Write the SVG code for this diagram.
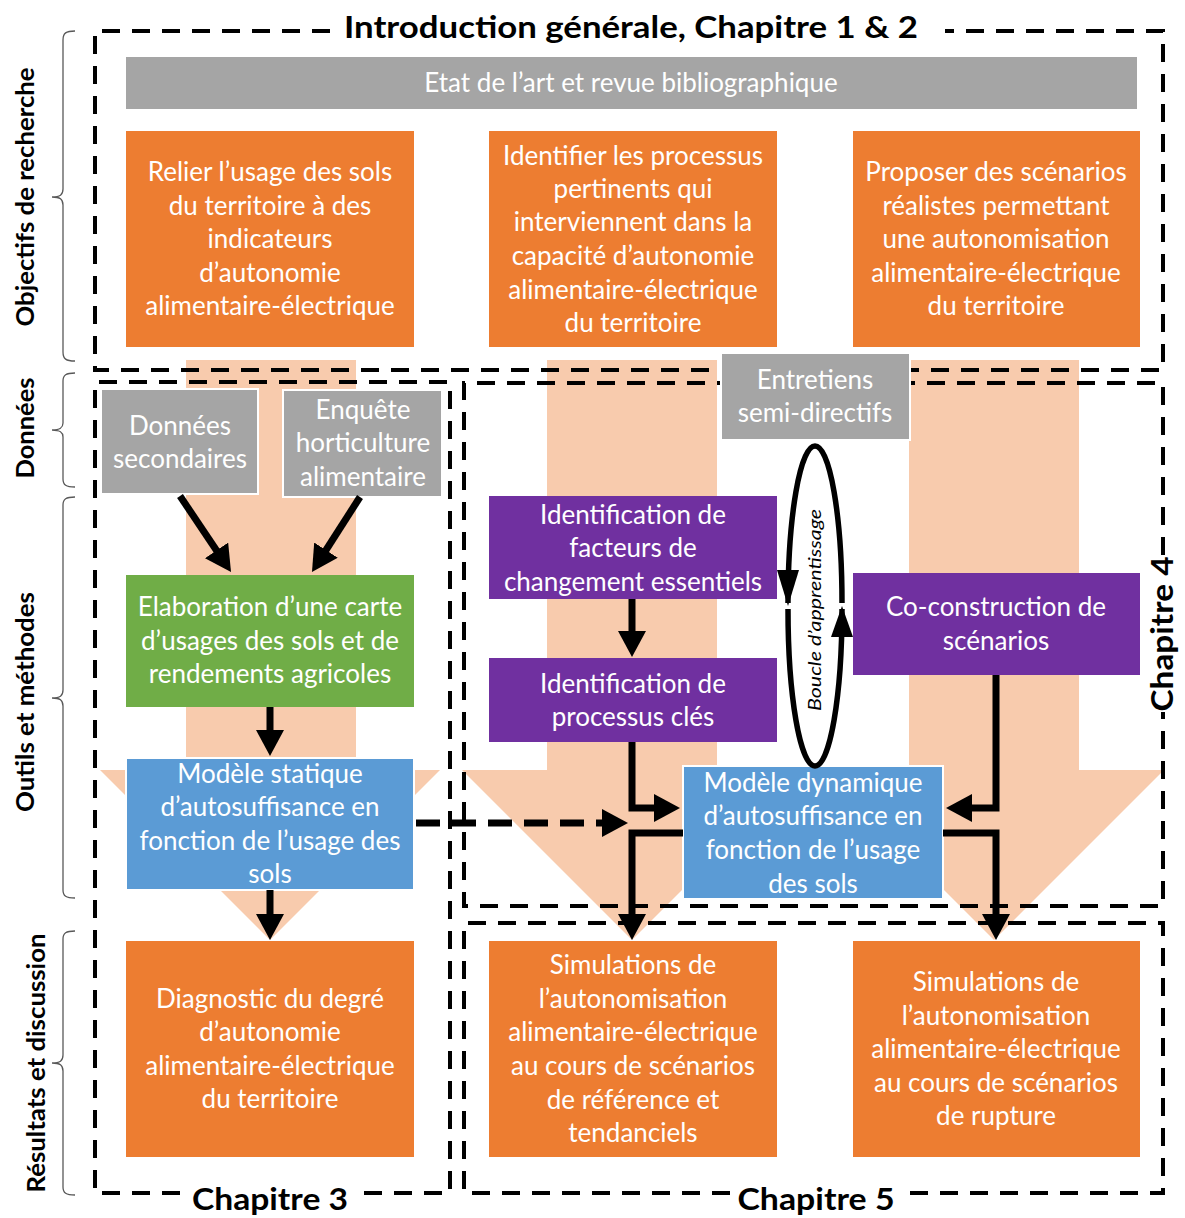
<svg xmlns="http://www.w3.org/2000/svg" width="1185" height="1218" viewBox="0 0 1185 1218">
<style>
.t{font-family:Lato,"Open Sans","Liberation Sans",sans-serif;font-size:26px;fill:#fff;text-anchor:middle}
.h{font-family:Lato,"Open Sans","Liberation Sans",sans-serif;font-weight:bold;fill:#000;text-anchor:middle}
.or{fill:#ed7d31}
.gr{fill:#a5a5a5;stroke:#fff;stroke-width:2}
.gn{fill:#70ad47}
.bl{fill:#5b9bd5;stroke:#fff;stroke-width:2}
.pu{fill:#7030a0}
.pe{fill:#f8cbad}
.dash{fill:none;stroke:#000;stroke-width:4;stroke-dasharray:18 12}
.br{fill:none;stroke:#595959;stroke-width:1.3}
.ar{fill:none;stroke:#000;stroke-width:7;stroke-linejoin:miter}
</style>
<defs>
<marker id="ah" markerUnits="userSpaceOnUse" markerWidth="28" markerHeight="28" refX="10" refY="14" orient="auto">
<path d="M0,0 L26,14 L0,28 Z" fill="#000"/>
</marker>
</defs>
<rect width="1185" height="1218" fill="#fff"/>

<g id="background-arrows">
<path class="pe" d="M186,360 H356 V770 H440 L270,940 L100,770 H186 Z"/>
<path class="pe" d="M547,360 H717 V770 H802 L632,940 L462,770 H547 Z"/>
<path class="pe" d="M909,360 H1079 V770 H1164 L994,940 L824,770 H909 Z"/>
</g>

<g id="frames">
<path class="dash" d="M330,31 H95 V370 H1163 V31 H945"/>
<path class="dash" d="M180,1193 H95 V382 H450 V1193 H360"/>
<path class="dash" d="M1163,555 V383 H464 V906 H1163 V712"/>
<path class="dash" d="M730,1193 H464 V923 H1163 V1193 H905"/>
<text class="h" x="631" y="38" font-size="31" textLength="574" lengthAdjust="spacingAndGlyphs">Introduction générale, Chapitre 1 &amp; 2</text>
<text class="h" x="270" y="1210" font-size="31" textLength="156" lengthAdjust="spacingAndGlyphs">Chapitre 3</text>
<text class="h" x="816" y="1210" font-size="31" textLength="157" lengthAdjust="spacingAndGlyphs">Chapitre 5</text>
<text class="h" transform="translate(1173,634) rotate(-90)" x="0" y="0" font-size="31" textLength="155" lengthAdjust="spacingAndGlyphs">Chapitre 4</text>
</g>

<g id="side-labels">
<path class="br" d="M75,31 C66,31 63,33 63,40 V189 C63,195 60,197 52,197 C60,197 63,199 63,205 V352 C63,359 66,361 75,361"/>
<path class="br" d="M75,373 C66,373 63,375 63,381 V423 C63,428 60,430 52,430 C60,430 63,432 63,437 V479 C63,485 66,487 75,487"/>
<path class="br" d="M75,497 C66,497 63,499 63,505 V690 C63,696 60,698 52,698 C60,698 63,700 63,706 V890 C63,896 66,898 75,898"/>
<path class="br" d="M75,931 C66,931 63,933 63,939 V1055 C63,1061 60,1063 52,1063 C60,1063 63,1065 63,1071 V1187 C63,1193 66,1195 75,1195"/>
<text class="h" transform="translate(34,197) rotate(-90)" font-size="24" textLength="259" lengthAdjust="spacingAndGlyphs">Objectifs de recherche</text>
<text class="h" transform="translate(34,428) rotate(-90)" font-size="24" textLength="101" lengthAdjust="spacingAndGlyphs">Données</text>
<text class="h" transform="translate(34,702) rotate(-90)" font-size="24" textLength="220" lengthAdjust="spacingAndGlyphs">Outils et méthodes</text>
<text class="h" transform="translate(45,1063) rotate(-90)" font-size="24" textLength="259" lengthAdjust="spacingAndGlyphs">Résultats et discussion</text>
</g>

<g id="n-etat"><rect class="gr" x="125" y="56" width="1013" height="54"/><text class="t" x="631" y="92">Etat de l’art et revue bibliographique</text></g>

<g id="n-relier"><rect class="or" x="126" y="131" width="288" height="216"/>
<text class="t"><tspan x="270" y="181">Relier l’usage des sols</tspan><tspan x="270" y="215">du territoire à des</tspan><tspan x="270" y="248">indicateurs</tspan><tspan x="270" y="282">d’autonomie</tspan><tspan x="270" y="315">alimentaire-électrique</tspan></text></g>

<g id="n-identifier"><rect class="or" x="489" y="131" width="288" height="216"/>
<text class="t"><tspan x="633" y="165">Identifier les processus</tspan><tspan x="633" y="198">pertinents qui</tspan><tspan x="633" y="231">interviennent dans la</tspan><tspan x="633" y="265">capacité d’autonomie</tspan><tspan x="633" y="299">alimentaire-électrique</tspan><tspan x="633" y="332">du territoire</tspan></text></g>

<g id="n-proposer"><rect class="or" x="853" y="131" width="287" height="216"/>
<text class="t"><tspan x="996" y="181">Proposer des scénarios</tspan><tspan x="996" y="215">réalistes permettant</tspan><tspan x="996" y="248">une autonomisation</tspan><tspan x="996" y="282">alimentaire-électrique</tspan><tspan x="996" y="315">du territoire</tspan></text></g>

<g id="n-donnees"><rect class="gr" x="101" y="389" width="157" height="105"/>
<text class="t"><tspan x="180" y="435">Données</tspan><tspan x="180" y="468">secondaires</tspan></text></g>

<g id="n-enquete"><rect class="gr" x="283" y="390" width="159" height="107"/>
<text class="t"><tspan x="363" y="419">Enquête</tspan><tspan x="363" y="452">horticulture</tspan><tspan x="363" y="486">alimentaire</tspan></text></g>

<g id="n-entretiens"><rect class="gr" x="721" y="353" width="189" height="87"/>
<text class="t"><tspan x="815" y="389">Entretiens</tspan><tspan x="815" y="422">semi-directifs</tspan></text></g>

<g id="n-facteurs"><rect class="pu" x="489" y="496" width="288" height="103"/>
<text class="t"><tspan x="633" y="524">Identification de</tspan><tspan x="633" y="557">facteurs de</tspan><tspan x="633" y="591">changement essentiels</tspan></text></g>

<g id="n-carte"><rect class="gn" x="126" y="575" width="288" height="132"/>
<text class="t"><tspan x="270" y="616">Elaboration d’une carte</tspan><tspan x="270" y="650">d’usages des sols et de</tspan><tspan x="270" y="683">rendements agricoles</tspan></text></g>

<g id="n-processus"><rect class="pu" x="489" y="658" width="288" height="84"/>
<text class="t"><tspan x="633" y="693">Identification de</tspan><tspan x="633" y="726">processus clés</tspan></text></g>

<g id="n-coconstruction"><rect class="pu" x="853" y="573" width="287" height="102"/>
<text class="t"><tspan x="996" y="616">Co-construction de</tspan><tspan x="996" y="650">scénarios</tspan></text></g>

<g id="n-statique"><rect class="bl" x="126" y="758" width="288" height="132"/>
<text class="t"><tspan x="270" y="783">Modèle statique</tspan><tspan x="270" y="816">d’autosuffisance en</tspan><tspan x="270" y="850">fonction de l’usage des</tspan><tspan x="270" y="883">sols</tspan></text></g>

<g id="n-dynamique"><rect class="bl" x="683" y="766" width="260" height="133"/>
<text class="t"><tspan x="813" y="792">Modèle dynamique</tspan><tspan x="813" y="825">d’autosuffisance en</tspan><tspan x="813" y="859">fonction de l’usage</tspan><tspan x="813" y="893">des sols</tspan></text></g>

<g id="n-diagnostic"><rect class="or" x="126" y="941" width="288" height="216"/>
<text class="t"><tspan x="270" y="1008">Diagnostic du degré</tspan><tspan x="270" y="1041">d’autonomie</tspan><tspan x="270" y="1075">alimentaire-électrique</tspan><tspan x="270" y="1108">du territoire</tspan></text></g>

<g id="n-sim1"><rect class="or" x="489" y="941" width="288" height="216"/>
<text class="t"><tspan x="633" y="974">Simulations de</tspan><tspan x="633" y="1008">l’autonomisation</tspan><tspan x="633" y="1041">alimentaire-électrique</tspan><tspan x="633" y="1075">au cours de scénarios</tspan><tspan x="633" y="1109">de référence et</tspan><tspan x="633" y="1142">tendanciels</tspan></text></g>

<g id="n-sim2"><rect class="or" x="853" y="941" width="287" height="216"/>
<text class="t"><tspan x="996" y="991">Simulations de</tspan><tspan x="996" y="1025">l’autonomisation</tspan><tspan x="996" y="1058">alimentaire-électrique</tspan><tspan x="996" y="1092">au cours de scénarios</tspan><tspan x="996" y="1125">de rupture</tspan></text></g>

<g id="connectors">
<line class="ar" x1="180" y1="496" x2="222.1" y2="558.7" marker-end="url(#ah)"/>
<line class="ar" x1="360" y1="497" x2="320.6" y2="558.5" marker-end="url(#ah)"/>
<line class="ar" x1="270" y1="707" x2="270" y2="740" marker-end="url(#ah)"/>
<line class="ar" x1="270" y1="890" x2="270" y2="924" marker-end="url(#ah)"/>
<line class="ar" x1="632" y1="599" x2="632" y2="641" marker-end="url(#ah)"/>
<path class="ar" d="M632,742 V808 H664" marker-end="url(#ah)"/>
<path class="ar" d="M996,675 V808 H962" marker-end="url(#ah)"/>
<path class="ar" d="M683,833 H632 V924" marker-end="url(#ah)"/>
<path class="ar" d="M943,833 H996 V924" marker-end="url(#ah)"/>
<line class="ar" x1="416" y1="823" x2="612" y2="823" stroke-dasharray="24 12" marker-end="url(#ah)"/>
<path fill="none" stroke="#000" stroke-width="5.5" d="M842,603 A27,157 0 0 0 788,603"/>
<path fill="none" stroke="#000" stroke-width="5.5" d="M788,609 A27,157 0 0 0 842,609"/>
<path d="M777,570 L799,570 L788,606 Z" fill="#000"/>
<path d="M831,637 L853,637 L842,606 Z" fill="#000"/>
<text transform="translate(821,610) rotate(-90)" font-family="Lato,'Open Sans',sans-serif" font-style="italic" font-size="17" text-anchor="middle" fill="#000" textLength="202" lengthAdjust="spacingAndGlyphs">Boucle d’apprentissage</text>
</g>
</svg>
